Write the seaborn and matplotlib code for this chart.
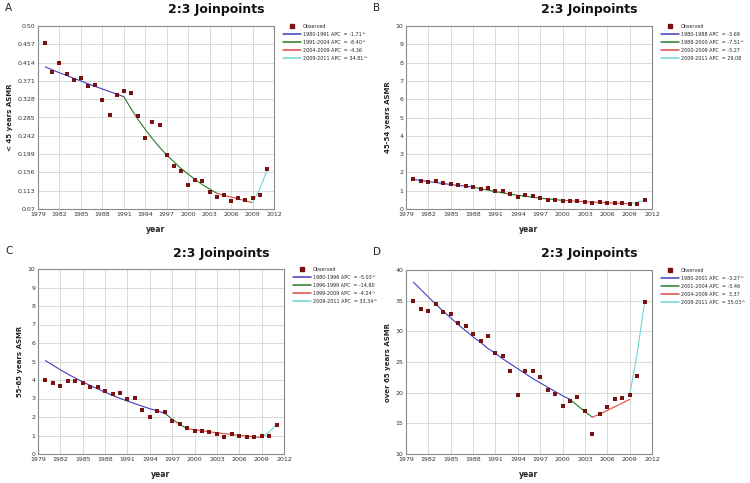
import numpy as np
import pandas as pd
import matplotlib
matplotlib.use('Agg')
import matplotlib.pyplot as plt
import seaborn as sns
from matplotlib.lines import Line2D

years = list(range(1980, 2012))

# observed ASMR per age group
obs_a = [0.461, 0.392, 0.413, 0.388, 0.373, 0.377, 0.360, 0.361, 0.327, 0.292, 0.337,
         0.347, 0.342, 0.289, 0.237, 0.274, 0.267, 0.196, 0.170, 0.160, 0.127, 0.139,
         0.136, 0.110, 0.098, 0.104, 0.089, 0.095, 0.092, 0.097, 0.103, 0.164]
obs_b = [1.65, 1.52, 1.47, 1.52, 1.42, 1.36, 1.31, 1.23, 1.22, 1.11, 1.16,
         0.98, 0.96, 0.82, 0.64, 0.76, 0.73, 0.58, 0.49, 0.47, 0.44, 0.44,
         0.44, 0.40, 0.33, 0.36, 0.31, 0.34, 0.31, 0.29, 0.29, 0.47]
obs_c = [3.98, 3.86, 3.69, 3.93, 3.93, 3.82, 3.60, 3.62, 3.42, 3.23, 3.32,
         2.97, 3.03, 2.40, 1.98, 2.34, 2.25, 1.80, 1.60, 1.39, 1.26, 1.24,
         1.21, 1.10, 0.94, 1.06, 0.97, 0.94, 0.90, 0.97, 0.99, 1.59]
obs_d = [34.95, 33.6, 33.3, 34.4, 33.2, 32.8, 31.4, 30.9, 29.5, 28.5, 29.3,
         26.4, 26.0, 23.5, 19.6, 23.6, 23.6, 22.6, 20.5, 19.8, 17.8, 18.6,
         19.3, 17.0, 13.2, 16.5, 17.7, 18.9, 19.2, 19.6, 22.7, 34.8]

# joinpoint segments: (start year, end year) and fitted values per year
seg_a = [(1980, 1991), (1991, 2004), (2004, 2009), (2009, 2011)]
fit_a = [[0.404, 0.397, 0.390, 0.384, 0.377, 0.371, 0.364, 0.358, 0.352, 0.346, 0.340, 0.334],
         [0.334, 0.306, 0.280, 0.257, 0.235, 0.215, 0.197, 0.181, 0.165, 0.152, 0.139, 0.127, 0.117, 0.107],
         [0.107, 0.102, 0.098, 0.094, 0.089, 0.085],
         [0.085, 0.117, 0.160]]
seg_b = [(1980, 1988), (1988, 2000), (2000, 2009), (2009, 2011)]
fit_b = [[1.62, 1.56, 1.50, 1.45, 1.39, 1.34, 1.29, 1.25, 1.20],
         [1.20, 1.11, 1.03, 0.95, 0.88, 0.81, 0.75, 0.70, 0.64, 0.59, 0.55, 0.51, 0.47],
         [0.47, 0.45, 0.42, 0.40, 0.38, 0.36, 0.34, 0.32, 0.30, 0.29],
         [0.29, 0.37, 0.48]]
seg_c = [(1980, 1996), (1996, 1999), (1999, 2009), (2009, 2011)]
fit_c = [[5.05, 4.80, 4.55, 4.32, 4.11, 3.90, 3.70, 3.52, 3.34, 3.17, 3.01, 2.86, 2.72, 2.58, 2.45, 2.33, 2.21],
         [2.21, 1.88, 1.60, 1.37],
         [1.37, 1.31, 1.26, 1.20, 1.15, 1.10, 1.06, 1.01, 0.97, 0.93, 0.89],
         [0.89, 1.19, 1.58]]
seg_d = [(1980, 2001), (2001, 2004), (2004, 2009), (2009, 2011)]
fit_d = [[38.0, 36.8, 35.6, 34.4, 33.3, 32.2, 31.1, 30.1, 29.1, 28.2, 27.2, 26.4,
          25.5, 24.7, 23.9, 23.1, 22.3, 21.6, 20.9, 20.2, 19.5, 18.9],
         [18.9, 17.9, 16.9, 16.0],
         [16.0, 16.5, 17.1, 17.7, 18.3, 18.9],
         [19.6, 26.3, 34.7]]

labels_a = ['1980-1991 APC  = -1.71^', '1991-2004 APC  = -8.40^', '2004-2009 APC  = -4.36', '2009-2011 APC  = 34.81^']
labels_b = ['1980-1988 APC  = -3.69', '1988-2000 APC  = -7.51^', '2000-2009 APC  = -5.27', '2009-2011 APC  = 29.08']
labels_c = ['1980-1996 APC  = -5.03^', '1996-1999 APC  = -14.80', '1999-2009 APC  = -4.24^', '2009-2011 APC  = 33.34^']
labels_d = ['1980-2001 APC  = -3.27^', '2001-2004 APC  = -5.46', '2004-2009 APC  =  3.37', '2009-2011 APC  = 35.03^']

yticks_a = [0.07, 0.113, 0.156, 0.199, 0.242, 0.285, 0.328, 0.371, 0.414, 0.457, 0.50]
yticklabels_a = ['0.07', '0.113', '0.156', '0.199', '0.242', '0.285', '0.328', '0.371', '0.414', '0.457', '0.50']
yticks_bc = list(range(0, 11))
yticks_d = [10, 15, 20, 25, 30, 35, 40]
xticks = list(range(1979, 2013, 3))

seg_colors = ['#4040c0', '#2a7a2a', '#e04848', '#70d4d4']
obs_color = '#7a1212'

sns.set_style('whitegrid')
plt.rcParams['font.family'] = ['DejaVu Sans']

W, H = 750, 483
fig = plt.figure(figsize=(7.5, 4.83), dpi=100)


def panel(box, letter, obs, segs, fits, labels, ylabel, yticks, yticklabels, ylim):
    l, t, r, b = box
    ax = fig.add_axes([l / W, 1 - b / H, (r - l) / W, (b - t) / H])
    df = pd.DataFrame({'year': years, 'asmr': obs})
    for (y0, y1), vals, col in zip(segs, fits, seg_colors):
        seg_df = pd.DataFrame({'year': list(range(y0, y1 + 1)), 'fit': vals})
        sns.lineplot(data=seg_df, x='year', y='fit', ax=ax, color=col, lw=0.8)
    sns.scatterplot(data=df, x='year', y='asmr', ax=ax, marker='s', s=12,
                    color=obs_color, edgecolor=obs_color, linewidth=0, zorder=5)
    ax.set_xlim(1979, 2012)
    ax.set_ylim(*ylim)
    ax.set_xticks(xticks)
    ax.set_yticks(yticks)
    ax.set_yticklabels(yticklabels)
    ax.tick_params(labelsize=4.5, length=0, pad=2, colors='#333333')
    ax.grid(color='#d4d4d4', lw=0.6)
    for s in ax.spines.values():
        s.set_color('#8a8a8a')
        s.set_linewidth(0.8)
    ax.set_xlabel('year', fontsize=5.5, fontweight='bold', labelpad=6)
    ax.set_ylabel(ylabel, fontsize=5, fontweight='bold', labelpad=3)

    cx = (l + r) / 2 + 60
    fig.text(cx / W, 1 - (t - 16) / H, '2:3 Joinpoints', fontsize=9, fontweight='bold',
             ha='center', va='center', color='#111111')
    fig.text((l - 33) / W, 1 - (t - 18) / H, letter, fontsize=7.5, ha='left', va='center')

    handles = [Line2D([0], [0], marker='s', ls='none', color=obs_color, markersize=2.2)]
    handles += [Line2D([0], [0], color=c, lw=1.1) for c in seg_colors]
    fig.legend(handles=handles, labels=['Observed'] + labels, loc='upper left',
               bbox_to_anchor=((r + 9) / W, 1 - (t - 2) / H), frameon=False,
               fontsize=3.5, handlelength=3.6, handletextpad=0.5, labelspacing=0.62,
               borderaxespad=0, borderpad=0)
    return ax


panel((38, 26, 274, 209), 'A', obs_a, seg_a, fit_a, labels_a, '< 45 years ASMR',
      yticks_a, yticklabels_a, (0.07, 0.50))
panel((406, 26, 652, 209), 'B', obs_b, seg_b, fit_b, labels_b, '45-54 years ASMR',
      yticks_bc, [str(v) for v in yticks_bc], (0, 10))
panel((38, 269, 284, 454), 'C', obs_c, seg_c, fit_c, labels_c, '55-65 years ASMR',
      yticks_bc, [str(v) for v in yticks_bc], (0, 10))
panel((406, 270, 652, 454), 'D', obs_d, seg_d, fit_d, labels_d, 'over 65 years ASMR',
      yticks_d, [str(v) for v in yticks_d], (10, 40))

fig.savefig('out.png', dpi=100, facecolor='white')
